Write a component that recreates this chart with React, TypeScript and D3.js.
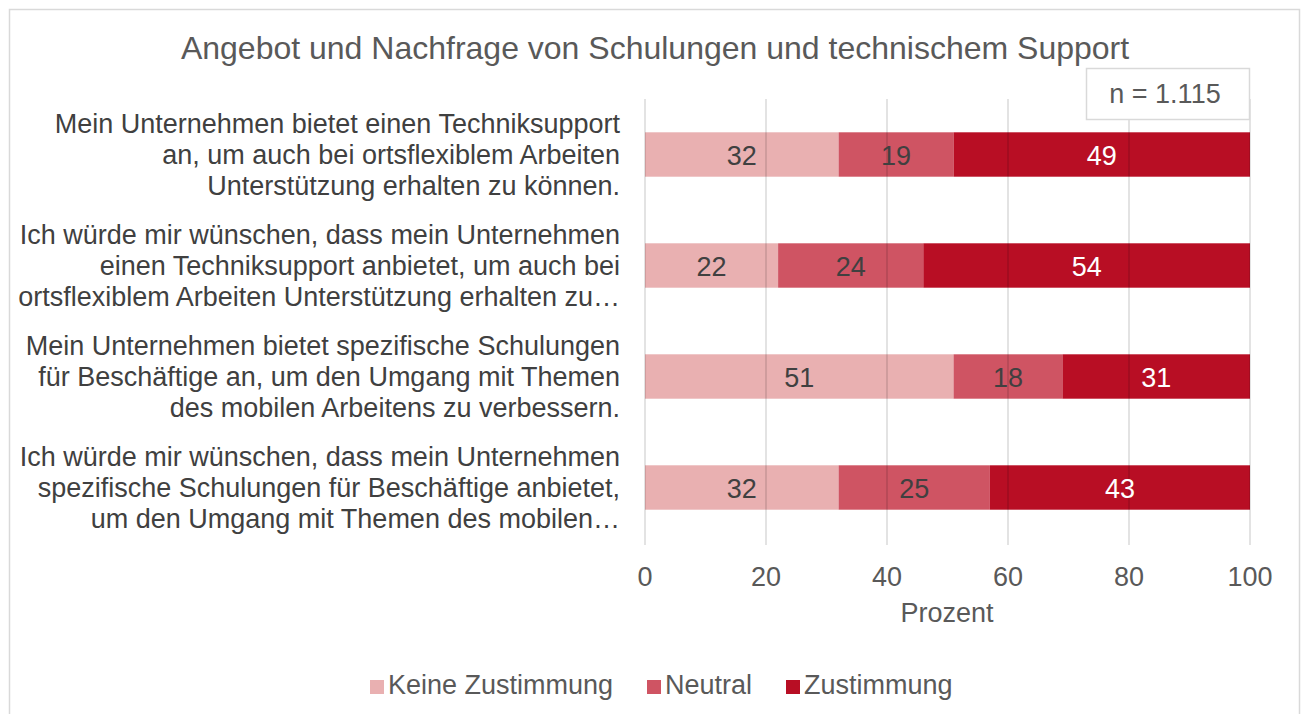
import React from "react";
import * as d3 from "d3";

const categories: string[][] = [
  ["Mein Unternehmen bietet einen Techniksupport", "an, um auch bei ortsflexiblem Arbeiten", "Unterstützung erhalten zu können."],
  ["Ich würde mir wünschen, dass mein Unternehmen", "einen Techniksupport anbietet, um auch bei", "ortsflexiblem Arbeiten Unterstützung erhalten zu…"],
  ["Mein Unternehmen bietet spezifische Schulungen", "für Beschäftige an, um den Umgang mit Themen", "des mobilen Arbeitens zu verbessern."],
  ["Ich würde mir wünschen, dass mein Unternehmen", "spezifische Schulungen für Beschäftige anbietet,", "um den Umgang mit Themen des mobilen…"],
];
const seriesNames = ["Keine Zustimmung", "Neutral", "Zustimmung"];
const keineZustimmung = [32, 22, 51, 32];
const neutral = [19, 24, 18, 25];
const zustimmung = [49, 54, 31, 43];
const xTicks = [0, 20, 40, 60, 80, 100];
const colors = ["#E9B0B1", "#CF5463", "#B80E24"];
const labelColors = ["#404040", "#404040", "#FFFFFF"];

const FONT = "'Liberation Sans', Arial, sans-serif";

export default function App() {
  const W = 1307;
  const H = 714;
  const x = d3.scaleLinear().domain([0, 100]).range([645, 1250]);
  const y = d3
    .scaleBand<number>()
    .domain(d3.range(categories.length))
    .range([99, 543])
    .paddingInner(0.6)
    .paddingOuter(0.3);

  const rows = categories.map((_, i) => ({
    idx: i,
    k: keineZustimmung[i],
    n: neutral[i],
    z: zustimmung[i],
  }));
  const stacked = d3.stack<any>().keys(["k", "n", "z"])(rows);

  const bh = y.bandwidth();
  const legendX = [370, 647, 786];

  return (
    <svg
      width={W}
      height={H}
      style={{ position: "absolute", left: 0, top: 0, display: "block", background: "#fff" }}
      fontFamily={FONT}
    >
      <rect x={9.5} y={9.5} width={1290} height={730} fill="#fff" stroke="#D9D9D9" strokeWidth={1.5} />
      <text x={655} y={59} textAnchor="middle" fontSize={32} fill="#595959">
        Angebot und Nachfrage von Schulungen und technischem Support
      </text>

      {/* bars */}
      {stacked.map((layer, si) =>
        layer.map((d, i) => (
          <rect
            key={`${si}-${i}`}
            x={x(d[0])}
            y={y(i)!}
            width={x(d[1]) - x(d[0])}
            height={bh}
            fill={colors[si]}
          />
        ))
      )}

      {/* gridlines */}
      {xTicks.map((t) => (
        <line
          key={t}
          x1={x(t)}
          x2={x(t)}
          y1={99}
          y2={545}
          stroke="rgba(0,0,0,0.15)"
          strokeWidth={1.5}
        />
      ))}

      {/* value labels */}
      {stacked.map((layer, si) =>
        layer.map((d, i) => (
          <text
            key={`l-${si}-${i}`}
            x={(x(d[0]) + x(d[1])) / 2}
            y={y(i)! + bh / 2 + 10}
            textAnchor="middle"
            fontSize={27}
            fill={labelColors[si]}
          >
            {d[1] - d[0]}
          </text>
        ))
      )}

      {/* category labels */}
      {categories.map((lines, i) => {
        const cy = y(i)! + bh / 2;
        return (
          <text key={`c-${i}`} textAnchor="end" fontSize={27} fill="#404040">
            {lines.map((ln, j) => (
              <tspan key={j} x={620} y={cy + (j - 1) * 31 + 9}>
                {ln}
              </tspan>
            ))}
          </text>
        );
      })}

      {/* x axis ticks */}
      {xTicks.map((t) => (
        <text key={`t-${t}`} x={x(t)} y={586} textAnchor="middle" fontSize={27} fill="#595959">
          {t}
        </text>
      ))}
      <text x={947} y={622} textAnchor="middle" fontSize={27} fill="#595959">
        Prozent
      </text>

      {/* n box */}
      <rect x={1086.5} y={68.5} width={163} height={51} fill="#fff" stroke="#D9D9D9" strokeWidth={1.5} />
      <text x={1165} y={103} textAnchor="middle" fontSize={27} fill="#595959">
        n = 1.115
      </text>

      {/* legend */}
      {seriesNames.map((name, i) => {
        const lx = legendX[i];
        return (
          <g key={name}>
            <rect x={lx} y={680} width={14} height={14} fill={colors[i]} />
            <text x={lx + 18} y={694} fontSize={27} fill="#595959">
              {name}
            </text>
          </g>
        );
      })}
    </svg>
  );
}
